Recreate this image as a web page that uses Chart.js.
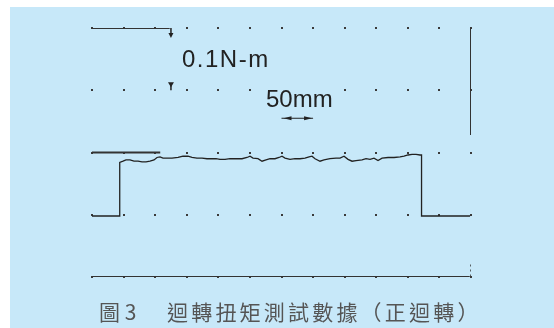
<!DOCTYPE html>
<html>
<head>
<meta charset="utf-8">
<script src="https://cdn.jsdelivr.net/npm/chart.js@4/dist/chart.umd.min.js"></script>
<style>
  html, body { margin: 0; padding: 0; background: #ffffff; }
  #panel { position: absolute; left: 10px; top: 7px; width: 544px; height: 321px; background: #c7e8f9; }
  #wrap { position: absolute; left: 0; top: 0; width: 554px; height: 328px; }
</style>
</head>
<body>
<div id="panel"></div>
<div id="wrap"><canvas id="c" width="554" height="328"></canvas></div>
<script>
// Stage travel (mm) and measured torque (N·m), positive rotation
const positionMm = [
  0, 41.2, 43.5, 43.5, 44.3, 49.1, 53.8, 60.2, 66.5, 72.8, 79.2, 85.5, 91.8, 98.2,
  102.9, 107.7, 112.4, 118.7, 126.7, 136.2, 144.1, 152.0, 158.3, 166.2, 174.2, 182.1,
  190.0, 196.3, 202.7, 210.6, 218.5, 228.0, 237.5, 245.4, 250.2, 254.9, 262.8, 269.2,
  275.5, 281.8, 289.7, 296.1, 300.8, 305.6, 313.5, 321.4, 329.3, 337.2, 343.6, 348.3,
  353.1, 361.0, 367.3, 376.8, 386.3, 392.7, 399.0, 405.3, 411.7, 418.0, 427.5, 433.8,
  440.2, 446.5, 452.8, 459.2, 468.7, 478.2, 487.7, 494.0, 500.3, 506.7, 513.0, 519.3,
  521.7, 521.7, 598.5
];
const torqueNm = [
  0.098, 0.098, 0.098, 0.183, 0.184, 0.186, 0.188, 0.188, 0.186, 0.186, 0.185, 0.185, 0.186, 0.188,
  0.192, 0.193, 0.191, 0.191, 0.191, 0.192, 0.194, 0.194, 0.192, 0.191, 0.191, 0.190,
  0.190, 0.190, 0.189, 0.189, 0.190, 0.190, 0.190, 0.192, 0.194, 0.191, 0.190, 0.186,
  0.188, 0.190, 0.190, 0.192, 0.194, 0.191, 0.189, 0.190, 0.190, 0.191, 0.193, 0.194,
  0.190, 0.186, 0.188, 0.190, 0.191, 0.191, 0.194, 0.189, 0.186, 0.187, 0.188, 0.190,
  0.189, 0.191, 0.187, 0.191, 0.192, 0.192, 0.193, 0.194, 0.196, 0.197, 0.197, 0.196,
  0.196, 0.098, 0.098
];

// Reference traces on the recorder sheet
const upperRefX = [0, 123];
const upperRefY = [0.4, 0.4];
const midRefX = [0, 108];
const midRefY = [0.2, 0.2];
const baseRefX = [0, 598];
const baseRefY = [0, 0];
const sideRefX = [600, 600];
const sideRefY = [0.4, 0.228];
const sideTailX = [600, 600];
const sideTailY = [0.02, 0];

// Division ticks: 50 mm per column, 0.1 N·m per row
const xTicks = [0, 50, 100, 150, 200, 250, 300, 350, 400, 450, 500, 550, 600];
const yTicks = [0, 0.1, 0.2, 0.3, 0.4];

// Scale markers
const torqueScaleX = 125;      // mm, where the 0.1 N·m bracket sits
const torqueScaleY = [0.4, 0.3];
const travelScaleX = [300, 350];
const travelScaleY = 0.255;

const torqueLabel = '0.1N-m';
const travelLabel = '50mm';
const captionFig = '圖 3';
const captionText = '迴轉扭矩測試數據（正迴轉）';

const INK = '#222222';
const PANEL = '#c7e8f9';

function pts(xs, ys) { return xs.map((x, i) => ({ x: x, y: ys[i] })); }

const gridDots = {
  id: 'gridDots',
  beforeDatasetsDraw(chart) {
    const { ctx, scales: { x, y } } = chart;
    ctx.save();
    ctx.fillStyle = '#3a3a3a';
    yTicks.forEach(v => {
      const py = Math.round(y.getPixelForValue(v));
      xTicks.forEach(u => {
        const px = Math.round(x.getPixelForValue(u));
        ctx.fillRect(px - 1, py - 1, 2, 2);
      });
    });
    ctx.restore();
  }
};

const annotations = {
  id: 'annotations',
  afterDatasetsDraw(chart) {
    const { ctx, scales: { x, y } } = chart;
    ctx.save();
    ctx.fillStyle = INK;
    ctx.strokeStyle = INK;

    // 0.1 N·m bracket pointers
    const sx = x.getPixelForValue(torqueScaleX);
    const yTop = y.getPixelForValue(torqueScaleY[0]);
    const yBot = y.getPixelForValue(torqueScaleY[1]);
    ctx.lineWidth = 1.5;
    ctx.beginPath(); ctx.moveTo(sx, yTop); ctx.lineTo(sx, yTop + 6); ctx.stroke();
    ctx.beginPath(); ctx.moveTo(sx - 2.5, yTop + 5); ctx.lineTo(sx + 2.5, yTop + 5); ctx.lineTo(sx, yTop + 10); ctx.closePath(); ctx.fill();
    ctx.beginPath(); ctx.moveTo(sx - 3, yBot - 8); ctx.lineTo(sx + 3, yBot - 8); ctx.lineTo(sx, yBot - 3); ctx.closePath(); ctx.fill();
    ctx.beginPath(); ctx.moveTo(sx, yBot - 5); ctx.lineTo(sx, yBot); ctx.stroke();

    // 50 mm travel bar
    const ax0 = x.getPixelForValue(travelScaleX[0]);
    const ax1 = x.getPixelForValue(travelScaleX[1]);
    const ay = y.getPixelForValue(travelScaleY);
    ctx.lineWidth = 1.2;
    ctx.beginPath(); ctx.moveTo(ax0, ay); ctx.lineTo(ax1, ay); ctx.stroke();
    ctx.beginPath(); ctx.moveTo(ax0 + 2, ay); ctx.lineTo(ax0 + 10, ay - 2); ctx.lineTo(ax0 + 10, ay + 2); ctx.closePath(); ctx.fill();
    ctx.beginPath(); ctx.moveTo(ax1 - 1, ay); ctx.lineTo(ax1 - 9, ay - 2); ctx.lineTo(ax1 - 9, ay + 2); ctx.closePath(); ctx.fill();

    // labels
    ctx.font = '24px "Liberation Sans", Arial, sans-serif';
    ctx.textBaseline = 'alphabetic';
    ctx.letterSpacing = '1.5px';
    ctx.fillText(torqueLabel, 182, 67);

    ctx.letterSpacing = '0px';
    const w = ctx.measureText(travelLabel).width;
    ctx.fillStyle = PANEL;
    ctx.fillRect(266, 86, w + 3, 24);
    ctx.fillStyle = INK;
    ctx.fillText(travelLabel, 266, 107);

    // caption
    ctx.fillStyle = '#555555';
    ctx.font = '21px "Noto Sans CJK TC", "Noto Sans CJK SC", sans-serif';
    ctx.textBaseline = 'middle';
    ctx.letterSpacing = '0px';
    ctx.fillText(captionFig, 99, 312);
    ctx.letterSpacing = '3.2px';
    ctx.fillText(captionText, 167, 312);
    ctx.restore();
  }
};

function refSet(xs, ys, width, dash) {
  return {
    data: pts(xs, ys), borderColor: '#333333', borderWidth: width,
    borderDash: dash || [], pointRadius: 0, showLine: true, fill: false, tension: 0
  };
}

new Chart(document.getElementById('c'), {
  type: 'scatter',
  data: {
    datasets: [
      refSet(upperRefX, upperRefY, 2),
      refSet(midRefX, midRefY, 2),
      refSet(baseRefX, baseRefY, 2),
      refSet(sideRefX, sideRefY, 2),
      refSet(sideTailX, sideTailY, 1.5, [2, 3]),
      {
        label: 'torque',
        data: pts(positionMm, torqueNm),
        borderColor: INK, borderWidth: 1.3, pointRadius: 0,
        showLine: true, fill: false, tension: 0
      }
    ]
  },
  options: {
    responsive: false,
    animation: false,
    layout: { padding: { left: 92, top: 28, right: 83, bottom: 51 } },
    plugins: { legend: { display: false }, tooltip: { enabled: false }, title: { display: false } },
    scales: {
      x: { type: 'linear', min: 0, max: 600, display: false },
      y: { type: 'linear', min: 0, max: 0.4, display: false }
    }
  },
  plugins: [gridDots, annotations]
});
</script>
</body>
</html>
